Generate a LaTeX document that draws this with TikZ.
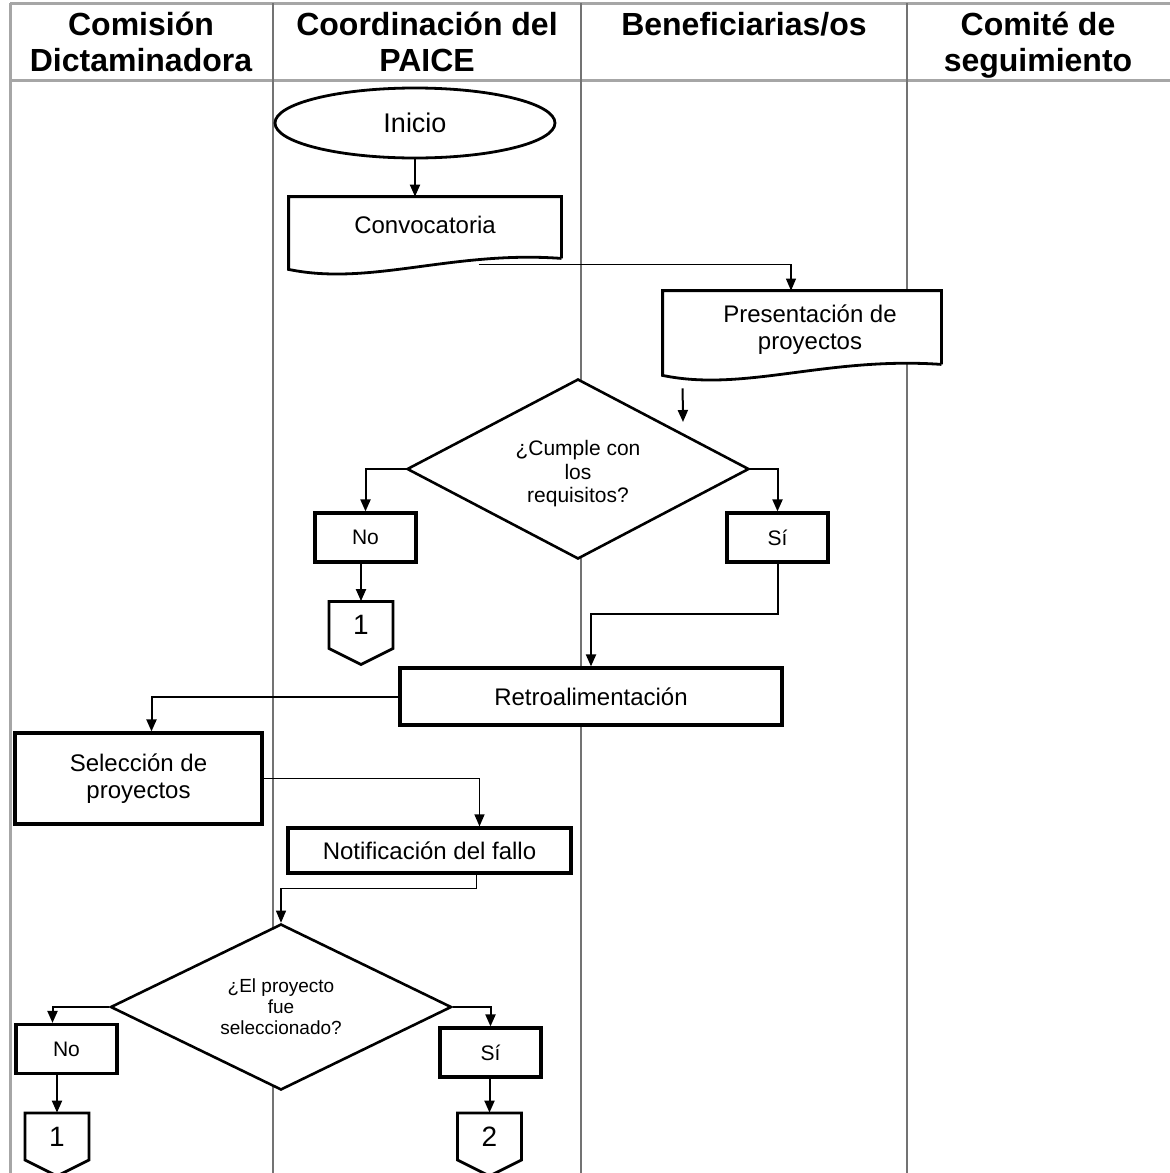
\documentclass[tikz,border=0pt]{standalone}
\usepackage{fontspec}
\setmainfont{Liberation Sans}
\usetikzlibrary{shapes.geometric,positioning,calc,arrows.meta}

% document symbol with a wavy bottom edge
\newcommand{\docshape}[1]{%
  \draw[shapeline, fill=white] (#1.south east) -- (#1.north east) -- (#1.north west)
    -- ($(#1.south west)+(0,11)$)
    .. controls ($(#1.south west)+(82,28)$) and ($(#1.south west)+(163,-8)$) .. (#1.south east);}
% off-page connector
\newcommand{\offpage}[3]{%
  \draw[shapeline, fill=white] ($(#2)+(-32,-23.5)$) -- ($(#2)+(32,-23.5)$) -- ($(#2)+(32,23.5)$)
    -- ($(#2)+(0,39.5)$) -- ($(#2)+(-32,23.5)$) -- cycle;
  \node[conn] (#1) at (#2) {#3};}

\begin{document}
\begin{tikzpicture}[x=0.5pt, y=-0.5pt,
    lane/.style={black!55, line width=0.6pt},
    frame/.style={black!35, line width=1.5pt},
    head/.style={font=\fontsize{16}{18}\selectfont\bfseries, align=center, anchor=base, inner sep=0pt},
    shapeline/.style={line width=1.4pt},
    box/.style={draw, fill=white, line width=1.6pt, inner sep=0pt, align=center, font=\fontsize{12}{13.5}\selectfont},
    startend/.style={ellipse, draw, fill=white, line width=1.4pt, minimum width=140pt, minimum height=35pt, inner sep=0pt, font=\fontsize{13.5}{15}\selectfont},
    doc/.style={inner sep=0pt, align=center, font=\fontsize{12}{13.5}\selectfont},
    decision/.style={diamond, draw, fill=white, line width=1.3pt, aspect=2, inner sep=0pt, align=center},
    answer/.style={box, minimum width=50.5pt, minimum height=24.5pt, font=\fontsize{10.5}{12}\selectfont},
    conn/.style={inner sep=0pt, minimum width=32pt, minimum height=23.5pt, font=\fontsize{14}{16}\selectfont},
    flow/.style={-{Triangle[length=6pt,width=5pt]}, line width=1pt},
    flowthin/.style={flow, line width=0.6pt}]
  \useasboundingbox (0,0) rectangle (1170,1173);

  % lanes
  \draw[frame] (10,3) -- (1170,3);
  \draw[frame] (10,80) -- (1170,80);
  \draw[frame] (10,3) -- (10,1173);
  \foreach \x in {273, 581, 907}
    \draw[lane] (\x,3) -- (\x,1173);

  \node[head] (hcom) at (141,71) {Comisión\\Dictaminadora};
  \node[head] (hcoo) at (427,71) {Coordinación del\\PAICE};
  \node[head] (hben) at (744,35) {Beneficiarias/os};
  \node[head] (hsep) at (1038,71) {Comité de\\seguimiento};

  % shapes
  \node[startend] (ini) at (415,123) {Inicio};
  \node[doc, minimum width=136pt, minimum height=30.5pt] (conv) at (425,227.5) {};
  \docshape{conv}
  \node[doc] at ($(conv)+(0,-3)$) {Convocatoria};
  \node[doc, minimum width=139pt, minimum height=36.5pt] (pres) at (802,327.5) {};
  \docshape{pres}
  \node[doc] at ($(pres)+(8,2)$) {Presentación de\\proyectos};

  \node[decision, minimum width=171pt, minimum height=90pt] (cumple) at (578,469) {};
  \node[align=center, inner sep=0pt, font=\fontsize{10.5}{11.75}\selectfont]
    at ($(cumple)+(0,5)$) {¿Cumple con\\los\\requisitos?};
  \node[answer] (no1) at (365.5,537.5) {No};
  \node[answer] (si1) at (777.5,537.5) {Sí};
  \offpage{uno}{361,625}{1}

  \node[box, minimum width=191pt, minimum height=28.5pt] (retro) at (591,696.5) {Retroalimentación};
  \node[box, minimum width=123.5pt, minimum height=45.5pt] (sel) at (138.5,778.5) {Selección de\\proyectos};
  \node[box, minimum width=141.5pt, minimum height=22.5pt] (notif) at (429.5,850.5) {Notificación del fallo};

  \node[decision, minimum width=170.5pt, minimum height=83pt, font=\fontsize{9.5}{10.5}\selectfont]
    (elegido) at (281,1007) {¿El proyecto\\fue\\seleccionado?};
  \node[answer] (no2) at (66.5,1049) {No};
  \node[answer] (si2) at (490.5,1052.5) {Sí};
  \offpage{unob}{57,1136.5}{1}
  \offpage{dos}{489.5,1136.5}{2}

  % connectors
  \coordinate (convout) at ($(conv.south west)+(190,6)$);
  \coordinate (presout) at ($(pres.south west)+(20,24)$);
  \coordinate (cumplein) at (683,422);

  \draw[flow] (ini.south) -- (ini.south |- conv.north);
  \draw[flowthin] (convout) -| ($(pres.north)+(-11,0)$);
  \draw[flow] (presout) -- (cumplein);
  \draw[flow] (cumple.west) -| (no1.north);
  \draw[flow] (cumple.east) -| (si1.north);
  \draw[flow] (uno.north |- no1.south) -- (uno.north);
  \draw[flow] (si1.south) -- ++(0,50) -| (retro.north);
  \draw[flow] (retro.west) -| ($(sel.north)+(13,0)$);
  \draw[flowthin] (sel.east) -| ($(notif.north)+(50,0)$);
  \draw[flowthin] ($(notif.south)+(47,0)$) -- ++(0,14) -| (elegido.north);
  \draw[flow] (elegido.west) -| ($(no2.north)+(-14,0)$);
  \draw[flow] (elegido.east) -| (si2.north);
  \draw[flow] (unob.north |- no2.south) -- (unob.north);
  \draw[flow] (dos.north |- si2.south) -- (dos.north);
\end{tikzpicture}
\end{document}
